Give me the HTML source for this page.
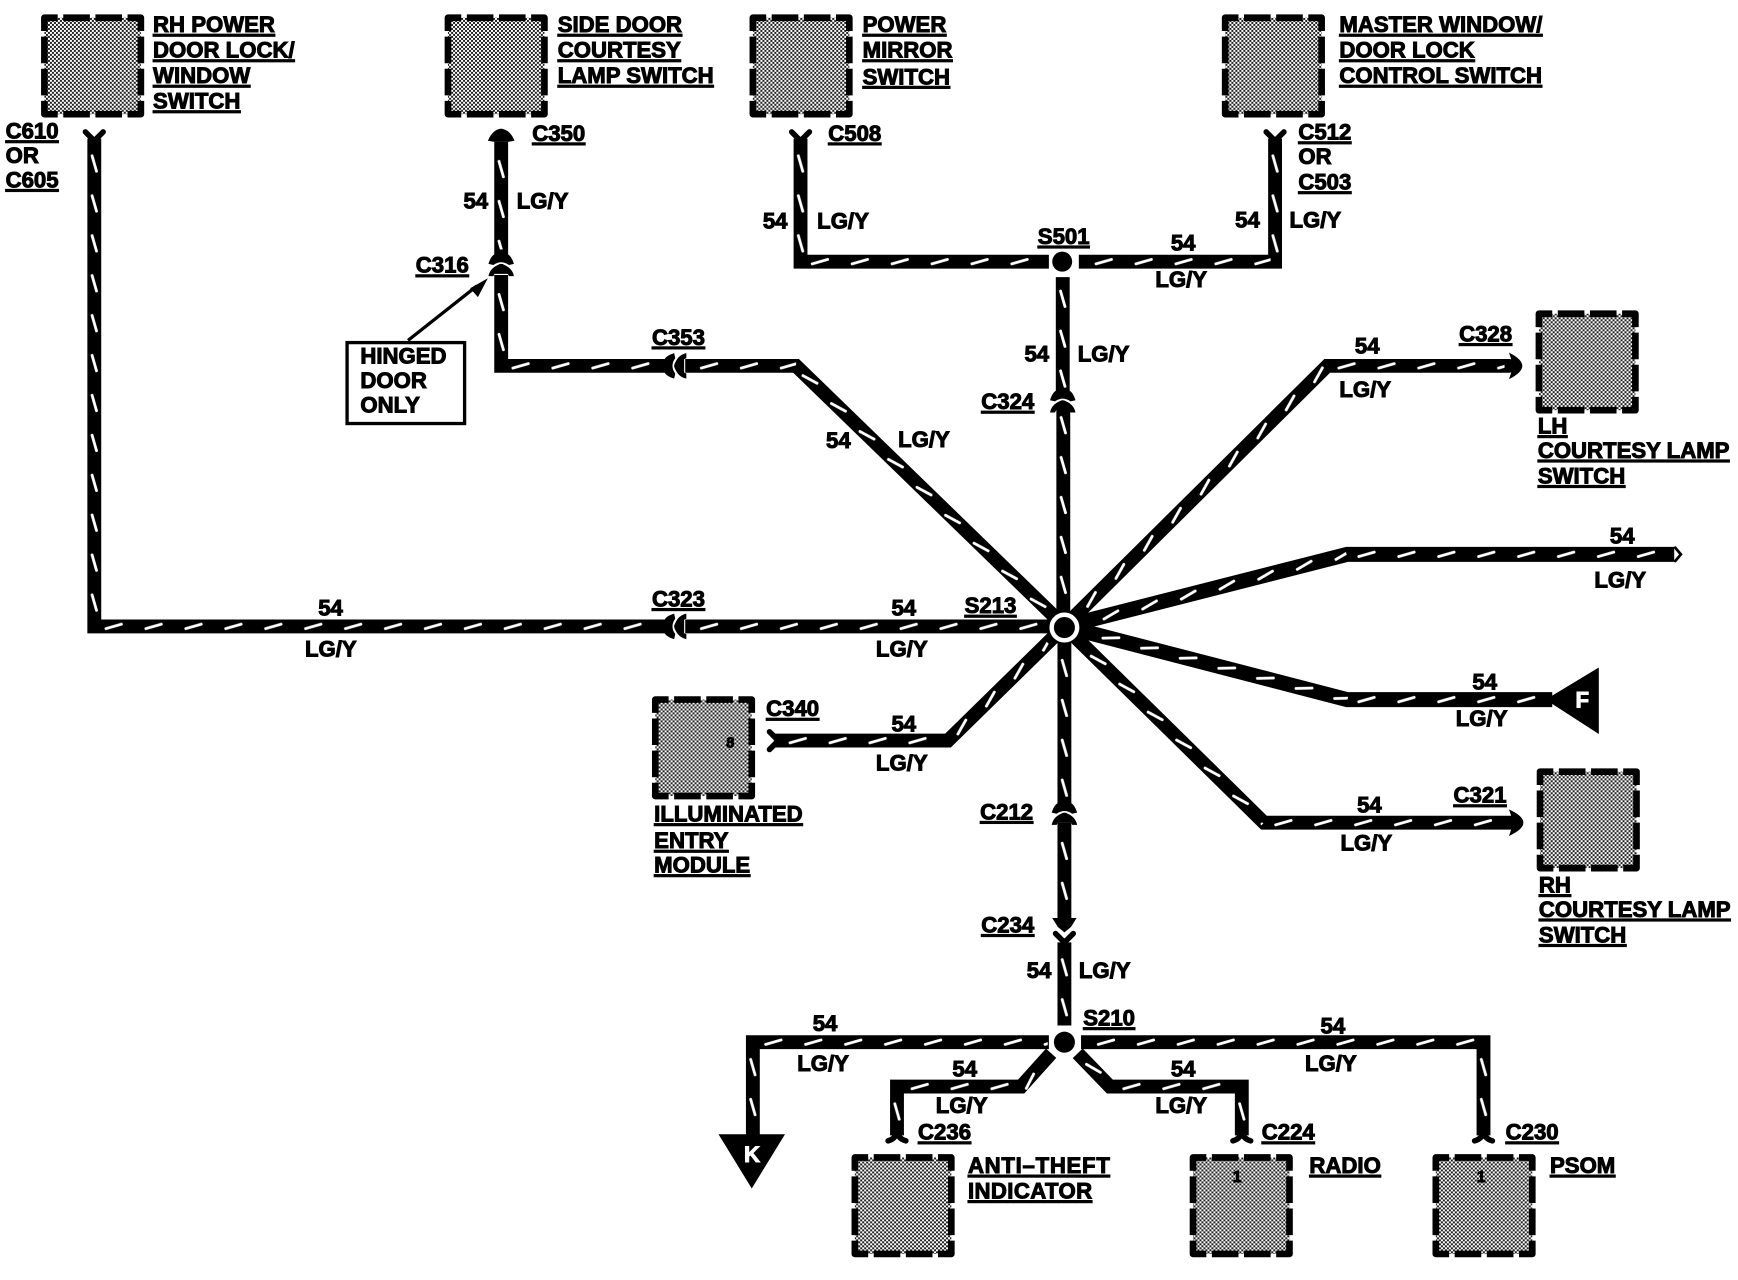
<!DOCTYPE html>
<html><head><meta charset="utf-8"><style>
html,body{margin:0;padding:0;background:#fff}
svg{display:block}
text{font-family:"Liberation Sans",sans-serif;font-weight:bold;font-size:20px;fill:#000;stroke:#000;stroke-width:.9px}
.u{text-decoration:underline}
.w{fill:none;stroke:#000;stroke-width:12.5;stroke-linejoin:miter}
.b{fill:url(#h);stroke:#000;stroke-width:6;stroke-dasharray:24 5;stroke-dashoffset:12;stroke-linejoin:round}
.f{fill:none;stroke:#000;stroke-width:5;stroke-linecap:round}
.p{fill:url(#dp)}
</style></head><body>
<svg width="1738" height="1280" viewBox="0 0 1567.5 1154.5" xmlns="http://www.w3.org/2000/svg">
<defs>
<pattern id="h" width="3.6" height="3.6" patternUnits="userSpaceOnUse"><rect width="3.6" height="3.6" fill="#fff"/><rect width="1.8" height="1.8" fill="#222"/><rect x="1.8" y="1.8" width="1.8" height="1.8" fill="#222"/></pattern>
<pattern id="dp" x="0" y="-6" width="36" height="12" patternUnits="userSpaceOnUse"><path d="M10.5 8L24.5 4" stroke="#fff" stroke-width="2.5" stroke-linecap="round" fill="none"/></pattern>
<g id="conn">
<path d="M-11.5 -2Q-9 -10 -5 -11L5 -11Q9 -10 11.5 -2L7 -1Q0 -6 -7 -1Z"/>
<path d="M-11.5 9Q-10 2 -3 -1Q0 -3 3 -1Q10 2 11.5 9L7 9L6 7H-6L-7 9Z"/>
</g>
</defs>
<rect width="1568" height="1155" fill="#fff"/>

<!-- boxes -->
<rect class="b" x="40" y="16" width="87" height="87"/>
<rect class="b" x="404" y="16" width="87" height="87"/>
<rect class="b" x="679" y="16" width="87" height="87"/>
<rect class="b" x="1105" y="16" width="87" height="87"/>
<rect class="b" x="1388" y="283" width="87" height="87"/>
<rect class="b" x="1389" y="696" width="87" height="87"/>
<rect class="b" x="591" y="631" width="87" height="87"/>
<rect class="b" x="771" y="1044" width="87" height="87"/>
<rect class="b" x="1076" y="1044" width="87" height="87"/>
<rect class="b" x="1295" y="1044" width="87" height="87"/>

<!-- wires -->
<path class="w" d="M85 125V565H602"/>
<path class="w" d="M618 565H950"/>
<path class="w" d="M452 128V232"/>
<path class="w" d="M452 248V330H602"/>
<path class="w" d="M618 330H718L955 560"/>
<path class="w" d="M722 125V236H946"/>
<path class="w" d="M973 236H1150V125"/>
<path class="w" d="M958.5 250V356"/>
<path class="w" d="M959 368V565"/>
<path class="w" d="M960 565L1197 330H1362"/>
<path class="w" d="M960 565L1215 500H1510" style="stroke-width:13.5"/>
<path class="w" d="M960 565L1215 631H1400" style="stroke-width:13.5"/>
<path class="w" d="M960 565L1140 742H1364"/>
<path class="w" d="M960 565L855 668H698"/>
<path class="w" d="M960 565V728"/>
<path class="w" d="M960 742V832"/>
<path class="w" d="M960 850V925"/>
<path class="w" d="M946 940H679V1030"/>
<path class="w" d="M948 950L921 980H809V1024"/>
<path class="w" d="M972 950L1001 980H1120V1024"/>
<path class="w" d="M975 940H1338V1024"/>

<!-- wire dashes -->
<rect class="p" transform="translate(85,130) rotate(90)" y="-6" width="430" height="12"/>
<rect class="p" transform="translate(85,565)" y="-6" width="510" height="12"/>
<rect class="p" transform="translate(622,565)" y="-6" width="325" height="12"/>
<rect class="p" transform="translate(452,135) rotate(90)" y="-6" width="90" height="12"/>
<rect class="p" transform="translate(452,255) rotate(90)" y="-6" width="70" height="12"/>
<rect class="p" transform="translate(452,330)" y="-6" width="148" height="12"/>
<rect class="p" transform="translate(622,330)" y="-6" width="96" height="12"/>
<rect class="p" transform="translate(718,330) rotate(44.4)" y="-6" width="318" height="12"/>
<rect class="p" transform="translate(722,130) rotate(90)" y="-6" width="100" height="12"/>
<rect class="p" transform="translate(722,236)" y="-6" width="220" height="12"/>
<rect class="p" transform="translate(978,236)" y="-6" width="168" height="12"/>
<rect class="p" transform="translate(1150,130) rotate(90)" y="-6" width="100" height="12"/>
<rect class="p" transform="translate(958.5,252) rotate(90)" y="-6" width="98" height="12"/>
<rect class="p" transform="translate(959,366) rotate(90)" y="-6" width="180" height="12"/>
<rect class="p" transform="translate(972,553) rotate(-44.7)" y="-6" width="317" height="12"/>
<rect class="p" transform="translate(1197,330)" y="-6" width="160" height="12"/>
<rect class="p" transform="translate(985,559) rotate(-14.4)" y="-6" width="237" height="12"/>
<rect class="p" transform="translate(1215,500)" y="-6" width="295" height="12"/>
<rect class="p" transform="translate(985,571) rotate(14.6)" y="-6" width="238" height="12"/>
<rect class="p" transform="translate(1215,631)" y="-6" width="178" height="12"/>
<rect class="p" transform="translate(978,583) rotate(44.5)" y="-6" width="227" height="12"/>
<rect class="p" transform="translate(1140,742)" y="-6" width="222" height="12"/>
<rect class="p" transform="translate(855,668) rotate(-44.4)" y="-6" width="126" height="12"/>
<rect class="p" transform="translate(702,668)" y="-6" width="152" height="12"/>
<rect class="p" transform="translate(960,585) rotate(90)" y="-6" width="135" height="12"/>
<rect class="p" transform="translate(960,750) rotate(90)" y="-6" width="78" height="12"/>
<rect class="p" transform="translate(960,855) rotate(90)" y="-6" width="66" height="12"/>
<rect class="p" transform="translate(680,940)" y="-6" width="265" height="12"/>
<rect class="p" transform="translate(679,945) rotate(90)" y="-6" width="78" height="12"/>
<rect class="p" transform="translate(812,980)" y="-6" width="108" height="12"/>
<rect class="p" transform="translate(917,988) rotate(-47)" y="-6" width="36" height="12"/>
<rect class="p" transform="translate(809,985) rotate(90)" y="-6" width="36" height="12"/>
<rect class="p" transform="translate(1003,980)" y="-6" width="114" height="12"/>
<rect class="p" transform="translate(974,951) rotate(46)" y="-6" width="36" height="12"/>
<rect class="p" transform="translate(1120,985) rotate(90)" y="-6" width="36" height="12"/>
<rect class="p" transform="translate(980,940)" y="-6" width="355" height="12"/>
<rect class="p" transform="translate(1338,945) rotate(90)" y="-6" width="75" height="12"/>

<!-- connector forks -->
<path class="f" d="M77 119L85 127L93 119"/>
<path class="f" d="M714 119L722 127L730 119"/>
<path class="f" d="M1142 119L1150 127L1158 119"/>
<path d="M440 127Q444 117 452 116Q460 117 464 127L458 128H446Z"/>
<use href="#conn" transform="translate(452,240)"/>
<use href="#conn" transform="translate(958.5,363)"/>
<use href="#conn" transform="translate(960,735)"/>
<use href="#conn" transform="translate(610,565) rotate(-90)"/>
<use href="#conn" transform="translate(610,330) rotate(-90)"/>
<path d="M949 828H971L966 836L960 841L954 836Z"/>
<path class="f" d="M952 842L960 850L968 842"/>
<path class="f" d="M694 660L702 668L694 676"/>
<path class="f" d="M801 1029Q809 1027 809 1018Q809 1027 817 1029"/>
<path class="f" d="M1112 1029Q1120 1027 1120 1018Q1120 1027 1128 1029"/>
<path class="f" d="M1330 1029Q1338 1027 1338 1018Q1338 1027 1346 1029"/>
<path d="M1361 318Q1373 324 1373 330Q1373 336 1361 342L1363 336H1358V324H1363Z"/>
<path d="M1361 730Q1374 736 1374 742Q1374 748 1361 754L1363 748H1358V736H1363Z"/>
<path class="f" d="M1511 494L1516 500L1511 506" style="stroke-width:2.5"/>

<!-- splices -->
<circle cx="960" cy="566" r="14" fill="#000"/>
<circle cx="960" cy="566" r="11.5" fill="#000" stroke="#fff" stroke-width="4"/>
<circle cx="958" cy="236" r="9" fill="#000"/>
<circle cx="960" cy="940" r="9.5" fill="#000"/>

<!-- triangles -->
<polygon points="1394,631 1442,602 1442,662" fill="#000"/>
<polygon points="648,1023 708,1023 678,1072" fill="#000"/>
<text x="1421" y="638" style="fill:#fff;stroke:#fff">F</text>
<text x="671" y="1048" style="fill:#fff;stroke:#fff">K</text>

<!-- note box -->
<rect x="313" y="309" width="106" height="73" fill="#fff" stroke="#000" stroke-width="3"/>
<path d="M368 307L430 258" stroke="#000" stroke-width="3" fill="none"/>
<polygon points="440,251 424,260 431,268" fill="#000"/>
<text x="325" y="328">HINGED</text><text x="325" y="350">DOOR</text><text x="325" y="372">ONLY</text>

<!-- underlined labels -->
<text class="u" x="138" y="29">RH POWER</text><text class="u" x="138" y="52">DOOR LOCK/</text><text class="u" x="138" y="75">WINDOW</text><text class="u" x="138" y="98">SWITCH</text>
<text class="u" x="503" y="29">SIDE DOOR</text><text class="u" x="503" y="52">COURTESY</text><text class="u" x="503" y="75">LAMP SWITCH</text>
<text class="u" x="778" y="29">POWER</text><text class="u" x="778" y="52">MIRROR</text><text class="u" x="778" y="76">SWITCH</text>
<text class="u" x="1208" y="29">MASTER WINDOW/</text><text class="u" x="1208" y="52">DOOR LOCK</text><text class="u" x="1208" y="75">CONTROL SWITCH</text>
<text class="u" x="5" y="125">C610</text><text class="u" x="5" y="169">C605</text>
<text class="u" x="480" y="127">C350</text><text class="u" x="747" y="127">C508</text>
<text class="u" x="1171" y="126">C512</text><text class="u" x="1171" y="171">C503</text>
<text class="u" x="375" y="246">C316</text><text class="u" x="588" y="311">C353</text>
<text class="u" x="936" y="220">S501</text><text class="u" x="885" y="369">C324</text>
<text class="u" x="1316" y="308">C328</text>
<text class="u" x="1387" y="391">LH</text><text class="u" x="1387" y="413">COURTESY LAMP</text><text class="u" x="1387" y="436">SWITCH</text>
<text class="u" x="870" y="553">S213</text><text class="u" x="588" y="547">C323</text>
<text class="u" x="691" y="646">C340</text>
<text class="u" x="590" y="741">ILLUMINATED</text><text class="u" x="590" y="765">ENTRY</text><text class="u" x="590" y="787">MODULE</text>
<text class="u" x="1311" y="724">C321</text>
<text class="u" x="1388" y="805">RH</text><text class="u" x="1388" y="827">COURTESY LAMP</text><text class="u" x="1388" y="850">SWITCH</text>
<text class="u" x="884" y="739">C212</text><text class="u" x="885" y="841">C234</text>
<text class="u" x="977" y="925">S210</text>
<text class="u" x="828" y="1028">C236</text><text class="u" x="1138" y="1028">C224</text><text class="u" x="1358" y="1028">C230</text>
<text class="u" x="873" y="1058" textLength="128" lengthAdjust="spacing">ANTI–THEFT</text><text class="u" x="873" y="1081" textLength="112" lengthAdjust="spacing">INDICATOR</text>
<text class="u" x="1181" y="1058">RADIO</text><text class="u" x="1398" y="1058">PSOM</text>
<text x="5" y="147">OR</text><text x="1171" y="148">OR</text>

<!-- wire labels -->
<text x="418" y="188">54</text><text x="466" y="188">LG/Y</text>
<text x="745" y="404">54</text><text x="810" y="403">LG/Y</text>
<text x="688" y="206">54</text><text x="737" y="206">LG/Y</text>
<text x="1056" y="226">54</text><text x="1042" y="259">LG/Y</text>
<text x="1114" y="205">54</text><text x="1163" y="205">LG/Y</text>
<text x="924" y="326">54</text><text x="972" y="326">LG/Y</text>
<text x="1222" y="319">54</text><text x="1208" y="358">LG/Y</text>
<text x="1452" y="490">54</text><text x="1438" y="530">LG/Y</text>
<text x="804" y="555">54</text><text x="790" y="592">LG/Y</text>
<text x="287" y="555">54</text><text x="275" y="592">LG/Y</text>
<text x="804" y="660">54</text><text x="790" y="695">LG/Y</text>
<text x="1328" y="622">54</text><text x="1313" y="655">LG/Y</text>
<text x="1224" y="733">54</text><text x="1209" y="767">LG/Y</text>
<text x="926" y="882">54</text><text x="973" y="882">LG/Y</text>
<text x="733" y="930">54</text><text x="719" y="966">LG/Y</text>
<text x="859" y="971">54</text><text x="844" y="1004">LG/Y</text>
<text x="1056" y="971">54</text><text x="1042" y="1004">LG/Y</text>
<text x="1191" y="932">54</text><text x="1177" y="966">LG/Y</text>
<text x="1112" y="1066" style="font-size:14px">1</text>
<text x="1332" y="1066" style="font-size:14px">1</text>
<text x="655" y="674" style="font-size:13px">8</text>
</svg>
</body></html>
